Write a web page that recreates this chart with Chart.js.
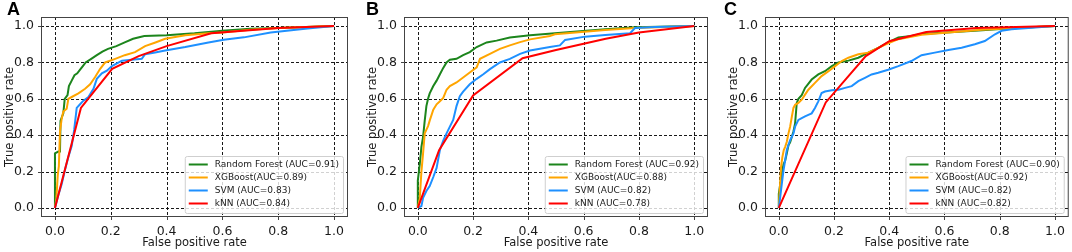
<!DOCTYPE html>
<html lang="en">
<head>
  <meta charset="UTF-8">
  <title>ROC curves A/B/C</title>
  <script src="https://cdn.jsdelivr.net/npm/chart.js"></script>
  <style>
    html, body {
      margin: 0;
      background: #fff;
      width: 1072px;
      height: 252px;
      overflow: hidden;
    }
    .panel { position: absolute; top: 0; height: 252px; }
    .tag {
      position: absolute;
      top: 0;
      font: bold 18px "Liberation Sans", Arial, sans-serif;
      line-height: 18px;
      color: #000;
    }
  </style>
</head>
<body>
  <canvas id="cA" class="panel" style="left:0px" width="358" height="252"></canvas>
  <canvas id="cB" class="panel" style="left:358px" width="355" height="252"></canvas>
  <canvas id="cC" class="panel" style="left:713px" width="359" height="252"></canvas>
  <div class="tag" style="left:7px">A</div>
  <div class="tag" style="left:366px">B</div>
  <div class="tag" style="left:724px">C</div>
  <script>
    const tickVals = [0, 0.2, 0.4, 0.6, 0.8, 1.0];
    const modelNames = ['Random Forest', 'XGBoost', 'SVM', 'kNN'];
    const colors = ['#1c851c', '#ffa500', '#1e90ff', '#ff0000'];

    // --- panel A ---
    const rfA_fpr = [0, 0, 0.012, 0.018, 0.02, 0.03, 0.035, 0.045, 0.05, 0.06, 0.07, 0.08, 0.09, 0.1, 0.11, 0.13, 0.15, 0.17, 0.19, 0.22, 0.25, 0.28, 0.32, 0.4, 0.5, 0.6, 0.7, 0.8, 0.9, 1];
    const rfA_tpr = [0, 0.30, 0.31, 0.31, 0.48, 0.52, 0.60, 0.62, 0.67, 0.70, 0.73, 0.74, 0.76, 0.78, 0.80, 0.82, 0.84, 0.86, 0.875, 0.89, 0.91, 0.93, 0.945, 0.95, 0.96, 0.975, 0.985, 0.99, 0.995, 1];
    const xgbA_fpr = [0, 0.005, 0.01, 0.014, 0.018, 0.024, 0.03, 0.042, 0.048, 0.06, 0.084, 0.108, 0.126, 0.144, 0.162, 0.18, 0.216, 0.25, 0.287, 0.323, 0.36, 0.395, 0.467, 0.55, 0.6, 0.7, 0.8, 0.9, 1];
    const xgbA_tpr = [0, 0.05, 0.18, 0.23, 0.42, 0.49, 0.53, 0.545, 0.60, 0.61, 0.63, 0.655, 0.68, 0.72, 0.765, 0.80, 0.82, 0.84, 0.857, 0.89, 0.91, 0.93, 0.95, 0.96, 0.965, 0.98, 0.99, 0.995, 1];
    const svmA_fpr = [0, 0.012, 0.024, 0.036, 0.048, 0.06, 0.069, 0.078, 0.09, 0.102, 0.12, 0.138, 0.15, 0.168, 0.186, 0.204, 0.24, 0.275, 0.311, 0.323, 0.359, 0.395, 0.467, 0.55, 0.605, 0.677, 0.773, 0.905, 1];
    const svmA_tpr = [0, 0.07, 0.13, 0.21, 0.28, 0.34, 0.43, 0.55, 0.57, 0.59, 0.61, 0.655, 0.71, 0.74, 0.755, 0.78, 0.81, 0.815, 0.82, 0.845, 0.855, 0.866, 0.885, 0.91, 0.925, 0.938, 0.965, 0.987, 1];
    const knnA_fpr = [0, 0.093, 0.205, 0.3, 0.4, 0.56, 0.8, 1];
    const knnA_tpr = [0, 0.55, 0.765, 0.835, 0.89, 0.96, 0.99, 1];
    const aucA = ['0.91', '0.89', '0.83', '0.84'];

    // --- panel B ---
    const rfB_fpr = [0, 0, 0.007, 0.013, 0.019, 0.025, 0.031, 0.037, 0.043, 0.056, 0.068, 0.08, 0.092, 0.104, 0.116, 0.14, 0.164, 0.188, 0.213, 0.249, 0.285, 0.333, 0.406, 0.496, 0.678, 0.786, 1];
    const rfB_tpr = [0, 0.15, 0.24, 0.335, 0.39, 0.48, 0.56, 0.6, 0.63, 0.67, 0.70, 0.735, 0.77, 0.80, 0.815, 0.82, 0.84, 0.857, 0.885, 0.91, 0.92, 0.937, 0.95, 0.961, 0.983, 0.993, 1];
    const xgbB_fpr = [0, 0.007, 0.013, 0.019, 0.025, 0.037, 0.043, 0.056, 0.068, 0.08, 0.092, 0.104, 0.116, 0.14, 0.164, 0.188, 0.213, 0.225, 0.261, 0.297, 0.333, 0.37, 0.406, 0.478, 0.496, 0.678, 0.786, 1];
    const xgbB_tpr = [0, 0.05, 0.2, 0.3, 0.41, 0.45, 0.48, 0.54, 0.57, 0.587, 0.605, 0.65, 0.67, 0.69, 0.717, 0.745, 0.773, 0.82, 0.847, 0.875, 0.894, 0.912, 0.927, 0.946, 0.955, 0.978, 0.99, 1];
    const svmB_fpr = [0, 0.013, 0.019, 0.031, 0.043, 0.056, 0.068, 0.08, 0.092, 0.104, 0.116, 0.128, 0.14, 0.152, 0.164, 0.188, 0.213, 0.237, 0.261, 0.297, 0.333, 0.37, 0.406, 0.478, 0.514, 0.533, 0.605, 0.678, 0.768, 0.786, 0.859, 1];
    const svmB_tpr = [0, 0.01, 0.056, 0.093, 0.12, 0.17, 0.22, 0.32, 0.37, 0.41, 0.447, 0.484, 0.56, 0.615, 0.64, 0.68, 0.71, 0.735, 0.763, 0.80, 0.82, 0.847, 0.866, 0.885, 0.894, 0.924, 0.942, 0.951, 0.961, 0.989, 0.995, 1];
    const knnB_fpr = [0, 0.077, 0.2, 0.379, 0.5, 0.68, 0.8, 1];
    const knnB_tpr = [0, 0.317, 0.618, 0.823, 0.868, 0.93, 0.965, 1];
    const aucB = ['0.92', '0.88', '0.82', '0.78'];

    // --- panel C ---
    const rfC_fpr = [0, 0, 0.005, 0.011, 0.017, 0.023, 0.029, 0.035, 0.041, 0.047, 0.053, 0.059, 0.065, 0.071, 0.083, 0.095, 0.119, 0.143, 0.167, 0.192, 0.216, 0.252, 0.288, 0.324, 0.36, 0.396, 0.433, 0.48, 0.517, 0.71, 0.83, 1];
    const rfC_tpr = [0, 0.078, 0.13, 0.19, 0.24, 0.26, 0.30, 0.345, 0.36, 0.39, 0.42, 0.465, 0.577, 0.60, 0.62, 0.66, 0.706, 0.734, 0.752, 0.78, 0.80, 0.81, 0.826, 0.854, 0.88, 0.91, 0.937, 0.946, 0.956, 0.974, 0.987, 1];
    const xgbC_fpr = [0, 0.004, 0.008, 0.013, 0.018, 0.023, 0.029, 0.035, 0.041, 0.047, 0.053, 0.059, 0.071, 0.083, 0.095, 0.107, 0.131, 0.155, 0.18, 0.204, 0.228, 0.252, 0.288, 0.324, 0.36, 0.396, 0.433, 0.517, 0.734, 0.855, 1];
    const xgbC_tpr = [0, 0.115, 0.225, 0.28, 0.318, 0.336, 0.364, 0.41, 0.447, 0.50, 0.55, 0.567, 0.577, 0.595, 0.623, 0.65, 0.688, 0.725, 0.752, 0.78, 0.808, 0.826, 0.845, 0.854, 0.88, 0.905, 0.928, 0.952, 0.98, 0.99, 1];
    const svmC_fpr = [0, 0.005, 0.011, 0.017, 0.023, 0.029, 0.035, 0.041, 0.047, 0.053, 0.059, 0.071, 0.083, 0.095, 0.107, 0.119, 0.131, 0.143, 0.155, 0.167, 0.192, 0.216, 0.24, 0.264, 0.288, 0.312, 0.336, 0.36, 0.396, 0.433, 0.48, 0.517, 0.565, 0.614, 0.662, 0.71, 0.746, 0.783, 0.807, 0.843, 0.94, 1];
    const svmC_tpr = [0, 0.06, 0.133, 0.207, 0.262, 0.318, 0.346, 0.373, 0.39, 0.41, 0.447, 0.484, 0.494, 0.503, 0.512, 0.52, 0.55, 0.586, 0.632, 0.64, 0.647, 0.65, 0.66, 0.67, 0.697, 0.715, 0.734, 0.743, 0.76, 0.78, 0.808, 0.84, 0.854, 0.868, 0.881, 0.9, 0.918, 0.955, 0.974, 0.983, 0.993, 1];
    const knnC_fpr = [0, 0.17, 0.315, 0.4, 0.534, 0.716, 1];
    const knnC_tpr = [0, 0.58, 0.835, 0.917, 0.968, 0.99, 1];
    const aucC = ['0.90', '0.92', '0.82', '0.82'];

    const FONT = '"DejaVu Sans", Verdana, sans-serif';

    function pts(xs, ys) {
      return xs.map((x, i) => ({ x: x, y: ys[i] }));
    }

    function legendLabel(i, auc) {
      // the XGBoost entry has no space before the bracket in the original
      return modelNames[i] + (i === 1 ? '' : ' ') + '(AUC=' + auc + ')';
    }

    // dashed grid, frame, tick marks and an in-plot legend (matplotlib look)
    const mplLook = {
      id: 'mplLook',
      beforeDatasetsDraw(chart) {
        const { ctx, chartArea: a, scales: { x, y } } = chart;
        ctx.save();
        ctx.strokeStyle = 'rgba(0,0,0,0.9)';
        ctx.lineWidth = 1;
        ctx.setLineDash([3, 2]);
        tickVals.forEach(v => {
          const px = Math.round(x.getPixelForValue(v)) + 0.5;
          const py = Math.round(y.getPixelForValue(v)) + 0.5;
          ctx.beginPath(); ctx.moveTo(px, a.top); ctx.lineTo(px, a.bottom); ctx.stroke();
          ctx.beginPath(); ctx.moveTo(a.left, py); ctx.lineTo(a.right, py); ctx.stroke();
        });
        ctx.restore();
      },
      afterDatasetsDraw(chart) {
        const { ctx, chartArea: a, scales: { x, y } } = chart;
        ctx.save();
        ctx.strokeStyle = '#444';
        ctx.lineWidth = 1;
        ctx.strokeRect(a.left + 0.5, a.top + 0.5, a.right - a.left - 1, a.bottom - a.top - 1);
        tickVals.forEach(v => {
          const px = Math.round(x.getPixelForValue(v)) + 0.5;
          const py = Math.round(y.getPixelForValue(v)) + 0.5;
          ctx.beginPath(); ctx.moveTo(px, a.bottom); ctx.lineTo(px, a.bottom + 3); ctx.stroke();
          ctx.beginPath(); ctx.moveTo(a.left, py); ctx.lineTo(a.left - 3, py); ctx.stroke();
        });

        // legend, lower right
        const labels = chart.options.plugins.mplLook.labels;
        ctx.font = '9px ' + FONT;
        const tw = Math.max(...labels.map(t => ctx.measureText(t).width));
        const w = tw + 34, h = 57;
        const bx = a.right - 5 - w, by = a.bottom - 4 - h;
        ctx.fillStyle = 'rgba(255,255,255,0.8)';
        ctx.strokeStyle = '#cfcfcf';
        ctx.beginPath();
        ctx.roundRect(bx + 0.5, by + 0.5, w, h, 2);
        ctx.fill();
        ctx.stroke();
        labels.forEach((t, i) => {
          const ry = by + 8.5 + i * 13;
          ctx.strokeStyle = colors[i];
          ctx.lineWidth = 2;
          ctx.beginPath(); ctx.moveTo(bx + 4, ry); ctx.lineTo(bx + 23, ry); ctx.stroke();
          ctx.fillStyle = '#1a1a1a';
          ctx.textBaseline = 'middle';
          ctx.fillText(t, bx + 30, ry + 0.5);
        });
        ctx.restore();
      }
    };

    function makePanel(id, padL, padR, curves, aucs) {
      // curves: [[fpr,tpr] rf, xgb, svm, knn]; kNN drawn on top
      const datasets = curves.map((c, i) => ({
        label: modelNames[i],
        data: pts(c[0], c[1]),
        borderColor: colors[i],
        backgroundColor: colors[i],
        borderWidth: 2,
        showLine: true,
        pointRadius: 0,
        tension: 0,
        order: 3 - i
      }));
      const tickFont = { family: FONT, size: 12.5 };
      const titleFont = { family: FONT, size: 11.5 };
      return new Chart(document.getElementById(id), {
        type: 'scatter',
        data: { datasets },
        plugins: [mplLook],
        options: {
          responsive: false,
          animation: false,
          events: [],
          layout: { padding: { left: padL, right: padR, top: 17, bottom: 0 } },
          plugins: {
            legend: { display: false },
            tooltip: { enabled: false },
            mplLook: { labels: aucs.map((v, i) => legendLabel(i, v)) }
          },
          scales: {
            x: {
              type: 'linear', min: -0.05, max: 1.05,
              afterBuildTicks: s => { s.ticks = tickVals.map(v => ({ value: v })); },
              afterFit: s => { s.height = 35; },
              grid: { display: false, drawTicks: false },
              border: { display: false },
              ticks: { padding: 7, color: '#1a1a1a', font: tickFont, maxRotation: 0, autoSkip: false,
                       callback: v => v.toFixed(1) },
              title: { display: true, text: 'False positive rate', color: '#1a1a1a', font: titleFont,
                       padding: { top: 0, bottom: 2 } }
            },
            y: {
              type: 'linear', min: -0.05, max: 1.05,
              afterBuildTicks: s => { s.ticks = tickVals.map(v => ({ value: v })); },
              afterFit: s => { s.width = 41; },
              grid: { display: false, drawTicks: false },
              border: { display: false },
              ticks: { padding: 7, color: '#1a1a1a', font: tickFont, autoSkip: false,
                       callback: v => v.toFixed(1) },
              title: { display: true, text: 'True positive rate', color: '#1a1a1a', font: titleFont,
                       padding: { top: 3, bottom: 0 } }
            }
          }
        }
      });
    }

    makePanel('cA', 0, 10,
      [[rfA_fpr, rfA_tpr], [xgbA_fpr, xgbA_tpr], [svmA_fpr, svmA_tpr], [knnA_fpr, knnA_tpr]], aucA);
    makePanel('cB', 5, 5,
      [[rfB_fpr, rfB_tpr], [xgbB_fpr, xgbB_tpr], [svmB_fpr, svmB_tpr], [knnB_fpr, knnB_tpr]], aucB);
    makePanel('cC', 11, 3,
      [[rfC_fpr, rfC_tpr], [xgbC_fpr, xgbC_tpr], [svmC_fpr, svmC_tpr], [knnC_fpr, knnC_tpr]], aucC);
  </script>
</body>
</html>
